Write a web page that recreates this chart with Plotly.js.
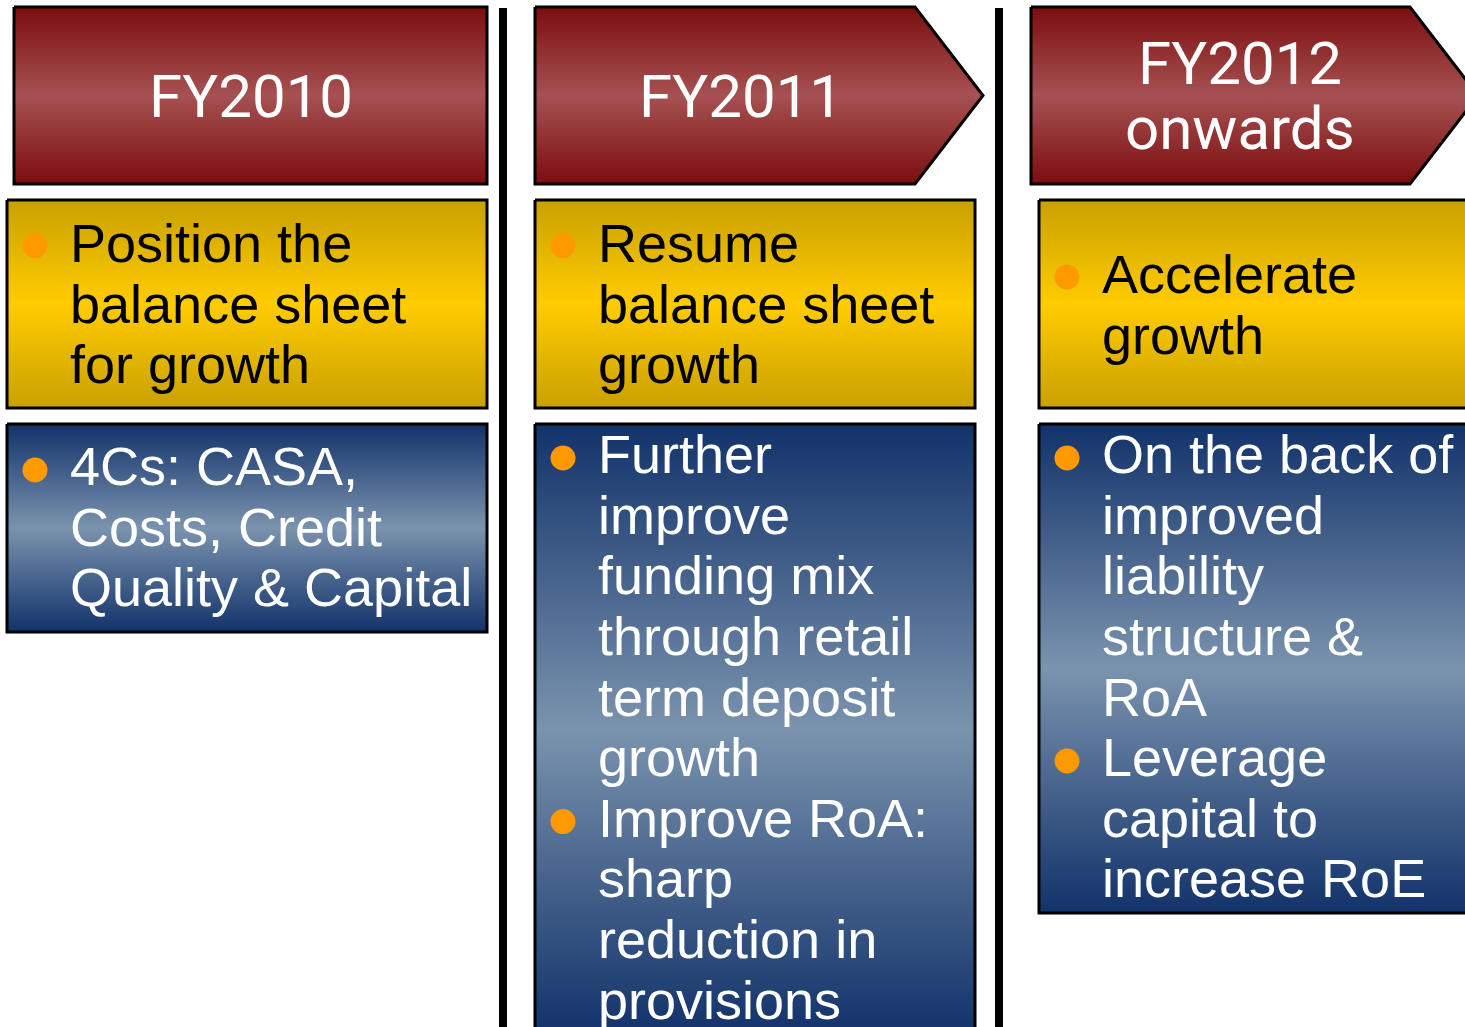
<!DOCTYPE html>
<html>
<head>
<meta charset="utf-8">
<script src="https://cdn.plot.ly/plotly-3.0.1.min.js"></script>
<style>html,body{margin:0;padding:0;background:#fff;}#chart{width:1465px;height:1027px;}</style>
</head>
<body>
<div id="chart"></div>
<script>
// ---- data: texts of the three phases ----
var phaseTitles = [["FY2010"], ["FY2011"], ["FY2012", "onwards"]];
var goalLines = [
  ["Position the", "balance sheet", "for growth"],
  ["Resume", "balance sheet", "growth"],
  ["Accelerate", "growth"]
];
var detailBullets = [
  [["4Cs: CASA,", "Costs, Credit", "Quality & Capital"]],
  [["Further", "improve", "funding mix", "through retail", "term deposit", "growth"],
   ["Improve RoA:", "sharp", "reduction in", "provisions"]],
  [["On the back of", "improved", "liability", "structure &", "RoA"],
   ["Leverage", "capital to", "increase RoE"]]
];

// ---- geometry / style ----
var W = 1465, H = 1027;
var cols = [
  {hx0: 14, hx1: 487, tip: 0, titleX: 251, bx0: 7, bx1: 487, blueBottom: 632, goalTop: 262, detailTop: 485, bulletX: 35, textX: 68},
  {hx0: 535, hx1: 915, tip: 68, titleX: 741, bx0: 535, bx1: 975, blueBottom: 1034, goalTop: 262, detailTop: 473, bulletX: 563, textX: 596},
  {hx0: 1031, hx1: 1410, tip: 68, titleX: 1240, bx0: 1039, bx1: 1475, blueBottom: 913, goalTop: 293, detailTop: 473, bulletX: 1067, textX: 1100}
];
var headTop = 7, headBot = 184, yelTop = 200, yelBot = 408, blueTop = 424;
var lineGap = 60.6, bodySize = 54, headSize = 60;
var dividers = [503, 999];
var redScale = [[0, "#7c0d0f"], [0.5, "#a65152"], [1, "#7c0d0f"]];
var yelScale = [[0, "#c9a000"], [0.5, "#ffcc00"], [1, "#c9a000"]];
var blueScale = [[0, "#12326a"], [0.5, "#7a93ae"], [1, "#12326a"]];
var bodyFont = "Liberation Sans, Arial, sans-serif";
var headFont = "Roboto, Liberation Sans, sans-serif";

var traces = [];
var annotations = [];
var bulletXs = [], bulletYs = [];

function poly(xs, ys, scale) {
  traces.push({
    type: "scatter", mode: "lines", x: xs.concat([xs[0]]), y: ys.concat([ys[0]]),
    fill: "toself", fillgradient: {type: "vertical", colorscale: scale},
    line: {color: "#000", width: 3}, hoverinfo: "skip", showlegend: false
  });
}
function textLine(x, baseline, txt, size, color, font, anchor) {
  annotations.push({
    x: x, y: baseline - 0.3465 * size, xref: "x", yref: "y", text: txt, showarrow: false,
    xanchor: anchor, yanchor: "middle", font: {family: font, size: size, color: color}
  });
}

cols.forEach(function (c, i) {
  var mid = (headTop + headBot) / 2;
  if (c.tip) {
    poly([c.hx0, c.hx1, c.hx1 + c.tip, c.hx1, c.hx0], [headTop, headTop, mid, headBot, headBot], redScale);
  } else {
    poly([c.hx0, c.hx1, c.hx1, c.hx0], [headTop, headTop, headBot, headBot], redScale);
  }
  var tl = phaseTitles[i];
  var hGap = 65;
  var firstBase = mid + 0.355 * headSize - (tl.length - 1) * hGap / 2;
  tl.forEach(function (t, k) {
    textLine(c.titleX, firstBase + k * hGap, t, headSize, "#ffffff", headFont, "center");
  });
  poly([c.bx0, c.bx1, c.bx1, c.bx0], [yelTop, yelTop, yelBot, yelBot], yelScale);
  goalLines[i].forEach(function (t, k) {
    textLine(c.textX, c.goalTop + k * lineGap, t, bodySize, "#000000", bodyFont, "left");
  });
  bulletXs.push(c.bulletX); bulletYs.push(c.goalTop - 16);
  poly([c.bx0, c.bx1, c.bx1, c.bx0], [blueTop, blueTop, c.blueBottom, c.blueBottom], blueScale);
  var n = 0;
  detailBullets[i].forEach(function (b) {
    bulletXs.push(c.bulletX); bulletYs.push(c.detailTop + n * lineGap - 15);
    b.forEach(function (t) {
      textLine(c.textX, c.detailTop + n * lineGap, t, bodySize, "#ffffff", bodyFont, "left");
      n++;
    });
  });
});

traces.push({
  type: "scatter", mode: "markers", x: bulletXs, y: bulletYs,
  marker: {size: 25, color: "#ff9900", line: {width: 0}}, hoverinfo: "skip", showlegend: false
});

var shapes = dividers.map(function (x) {
  return {type: "line", xref: "x", yref: "y", x0: x, x1: x, y0: 8, y1: H + 5, line: {color: "#000", width: 8}};
});

var layout = {
  width: W, height: H, margin: {l: 0, r: 0, t: 0, b: 0},
  paper_bgcolor: "#ffffff", plot_bgcolor: "#ffffff",
  xaxis: {range: [0, W], visible: false, fixedrange: true},
  yaxis: {range: [H, 0], visible: false, fixedrange: true},
  shapes: shapes, annotations: annotations, showlegend: false
};
Plotly.newPlot("chart", traces, layout, {displayModeBar: false, staticPlot: true});
</script>
</body>
</html>
